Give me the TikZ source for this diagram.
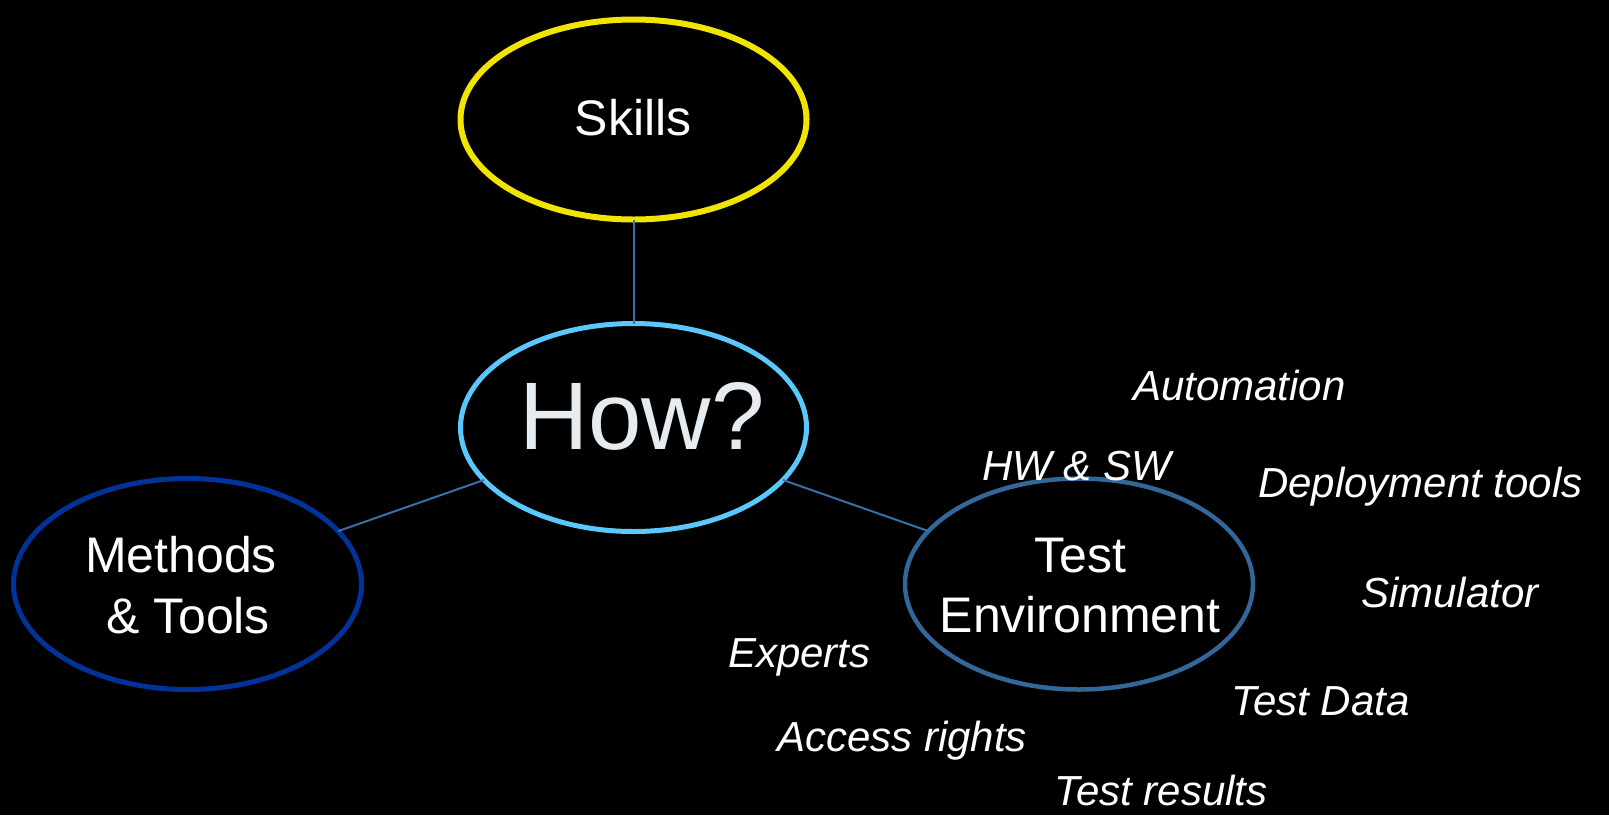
\documentclass[tikz,border=0pt]{standalone}
\usepackage{fontspec}
\setmainfont{Liberation Sans}
\usetikzlibrary{shapes.geometric}
\definecolor{skillc}{RGB}{240,228,0}
\definecolor{howc}{RGB}{90,200,250}
\definecolor{methc}{RGB}{0,51,153}
\definecolor{testc}{RGB}{51,102,153}
\definecolor{connc}{RGB}{59,111,168}
\definecolor{howtext}{RGB}{230,235,240}
\begin{document}
\begin{tikzpicture}[x=1pt,y=-1pt,
  ell/.style={ellipse, minimum width=346pt, minimum height=208pt, inner sep=0pt, outer sep=0pt, fill=black},
  conn/.style={draw=connc, line width=2pt},
  big/.style={text=white, font=\fontsize{50}{60}\selectfont, anchor=base, inner sep=0pt},
  lab/.style={text=white, font=\fontsize{42}{50}\selectfont\itshape, anchor=base west, inner sep=0pt}]
\useasboundingbox (0,0) rectangle (1609,815);
\fill[black] (0,0) rectangle (1609,815);
% ellipses
\node[ell, draw=skillc, line width=6pt, minimum height=200pt] (skills) at (633.5,119.5) {};
\node[ell, draw=howc, line width=5pt] (how) at (633.5,427.5) {};
\node[ell, draw=methc, line width=5pt, minimum width=348pt, minimum height=211pt] (meth) at (187.5,584) {};
\node[ell, draw=testc, line width=4.5pt, minimum width=348pt, minimum height=211pt] (test) at (1079,584) {};
% connectors
\draw[conn] (skills) -- (how);
\draw[conn] (how) -- (meth);
\draw[conn] (how) -- (test);
% texts in ellipses
\node[big] (skillsT) at (633,135) {Skills};
\node[text=howtext, font=\fontsize{96}{110}\selectfont, anchor=base, inner sep=0pt] (howT) at (642,449) {How?};
\node[big] (methT1) at (181,572) {Methods};
\node[big] (methT2) at (188,633) {\& Tools};
\node[big] (testT1) at (1080,572) {Test};
\node[big] (testT2) at (1080,632) {Environment};
% italic labels
\node[lab] (auto) at (1133,400) {Automation};
\node[lab] (hwsw) at (982,480) {HW \& SW};
\node[lab] (deploy) at (1258,497) {Deployment tools};
\node[lab] (sim) at (1361,607) {Simulator};
\node[lab] (tdata) at (1231,715) {Test Data};
\node[lab] (experts) at (728,667) {Experts};
\node[lab] (access) at (777,751) {Access rights};
\node[lab] (tres) at (1054,805) {Test results};
\end{tikzpicture}
\end{document}
